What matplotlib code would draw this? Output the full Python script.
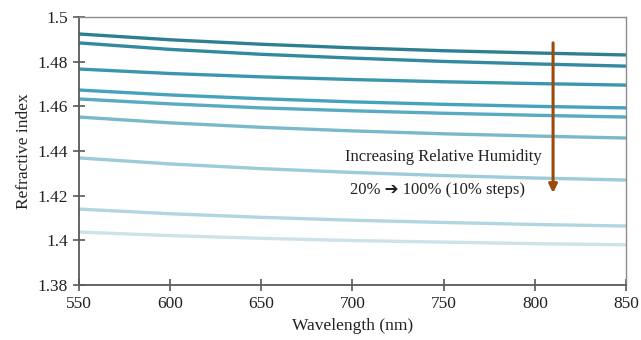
import matplotlib
matplotlib.use("Agg")
import matplotlib.pyplot as plt

plt.rcParams['font.family'] = ['Liberation Serif', 'DejaVu Sans']

wavelength = [550, 600, 650, 700, 750, 800, 850]
rh_20 = [1.4924, 1.4898, 1.4878, 1.4862, 1.4849, 1.4839, 1.4830]
rh_30 = [1.4884, 1.4855, 1.4833, 1.4816, 1.4801, 1.4790, 1.4780]
rh_40 = [1.4767, 1.4747, 1.4732, 1.4720, 1.4710, 1.4702, 1.4695]
rh_50 = [1.4673, 1.4651, 1.4634, 1.4620, 1.4609, 1.4600, 1.4593]
rh_60 = [1.4633, 1.4611, 1.4593, 1.4580, 1.4569, 1.4560, 1.4552]
rh_70 = [1.4552, 1.4526, 1.4506, 1.4490, 1.4477, 1.4467, 1.4458]
rh_80 = [1.4369, 1.4342, 1.4321, 1.4304, 1.4290, 1.4279, 1.4270]
rh_90 = [1.4140, 1.4119, 1.4103, 1.4090, 1.4080, 1.4071, 1.4064]
rh_100 = [1.4037, 1.4021, 1.4009, 1.3999, 1.3992, 1.3985, 1.3980]

series = [rh_20, rh_30, rh_40, rh_50, rh_60, rh_70, rh_80, rh_90, rh_100]
colors = ['#2f7f93', '#3389a0', '#3a96ad', '#45a3bd', '#5aaac2',
          '#7ab8cc', '#9ccbd9', '#b2d6e1', '#cce3ea']

xticks = [550, 600, 650, 700, 750, 800, 850]
yticks = [1.38, 1.40, 1.42, 1.44, 1.46, 1.48, 1.50]
yticklabels = ['1.38', '1.4', '1.42', '1.44', '1.46', '1.48', '1.5']

fig = plt.figure(figsize=(6.41, 3.40), dpi=100)
ax = fig.add_axes([0.1232, 0.1618, 0.9766 - 0.1232, 0.95 - 0.1618])

for s, c in zip(series, colors):
    ax.plot(wavelength, s, color=c, lw=2.4, solid_capstyle='butt')

ax.set_xlim(550, 850)
ax.set_ylim(1.38, 1.50)
ax.set_xticks(xticks)
ax.set_yticks(yticks)
ax.set_yticklabels(yticklabels)
ax.tick_params(axis='both', direction='inout', length=8, width=1.2,
               color='#595959', labelsize=12.5, labelcolor='#222222', pad=4)

for side in ['left', 'bottom']:
    ax.spines[side].set_color('#595959')
    ax.spines[side].set_linewidth(1.3)
for side in ['top', 'right']:
    ax.spines[side].set_color('#8c8c8c')
    ax.spines[side].set_linewidth(1.0)

ax.set_xlabel('Wavelength (nm)', fontsize=12.5, color='#222222')
ax.set_ylabel('Refractive index', fontsize=12.5, color='#222222')

ax.annotate('', xy=(810, 1.4212), xytext=(810, 1.4884),
            arrowprops=dict(arrowstyle='-|>,head_length=0.5,head_width=0.25',
                            color='#9c4a0c', lw=2.2, shrinkA=0, shrinkB=0))

ax.text(750, 1.4373, 'Increasing Relative Humidity', ha='center', va='center',
        fontsize=12, color='#222222')
ax.text(746.5, 1.4225, '20% \u2794 100% (10% steps)', ha='center', va='center',
        fontsize=12, color='#222222')

fig.savefig('out.png', dpi=100)
